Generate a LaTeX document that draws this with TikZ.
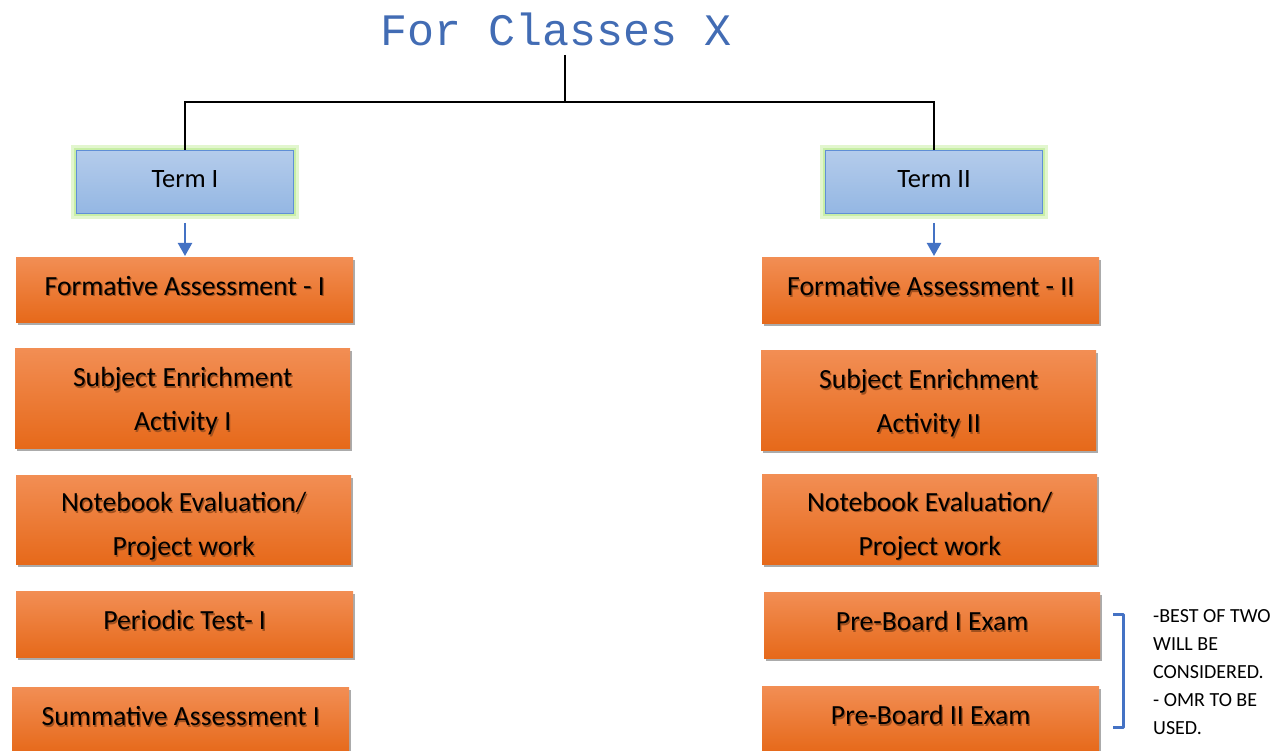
\documentclass[tikz,border=0pt]{standalone}
\usepackage{fontspec}
\setmainfont{Carlito}
\newfontfamily\titlefont{Liberation Mono}
\usetikzlibrary{shadows,arrows.meta}
\definecolor{titleblue}{RGB}{66,108,180}
\definecolor{orA}{RGB}{242,142,84}
\definecolor{orB}{RGB}{242,123,44}
\definecolor{orC}{RGB}{230,105,26}
\definecolor{blA}{RGB}{180,204,235}
\definecolor{blB}{RGB}{148,183,227}
\definecolor{blEdge}{RGB}{96,143,214}
\definecolor{glowA}{RGB}{226,246,206}
\definecolor{glowB}{RGB}{200,238,166}
\definecolor{arrowblue}{RGB}{68,114,196}
\definecolor{txtshadow}{RGB}{160,80,30}
\newcommand\shl[1]{\leavevmode\rlap{\hspace{1.3pt}\raisebox{-1.5pt}{\textcolor{txtshadow}{#1}}}#1}
\begin{document}
\begin{tikzpicture}[x=1pt,y=-1pt,
  orangebase/.style={anchor=north west, inner sep=0pt,
    font=\fontsize{27.7}{44}\selectfont, top color=orA, middle color=orB, bottom color=orC,
    draw=none,
    drop shadow={shadow xshift=1.5pt, shadow yshift=-3pt, fill=black!60, opacity=0.55}},
  orangebox/.style={orangebase, text depth=8.5pt},
  orangetwo/.style={orangebase, align=center},
  termbox/.style={anchor=north west, inner sep=0pt, minimum width=217pt, minimum height=63pt,
    font=\fontsize{26.5}{30}\selectfont, top color=blA, bottom color=blB, draw=blEdge, line width=1pt,
    text depth=5pt,
    preaction={draw=glowA, line width=11pt},
    preaction={draw=glowB, line width=5pt}},
  link/.style={draw=black, line width=1.4pt},
  downarrow/.style={draw=arrowblue, line width=2.2pt, -{Triangle[length=13pt,width=14pt]}, shorten <=9pt, shorten >=1pt}
]
\useasboundingbox (0,0) rectangle (1274,751);

% title
\node[anchor=base, inner sep=0pt, text=titleblue, font=\titlefont\fontsize{45}{50}\selectfont] (title) at (556,46) {For Classes X};
\coordinate (tb) at (565,55);
\coordinate (j) at (565,102);

% term boxes
\node[termbox] (t1) at (76,150) {Term I};
\node[termbox] (t2) at (825,150) {Term II};

% connectors
\draw[link] (tb) -- (j);
\draw[link] (t1.north) |- (j) -| (t2.north);

% left column
\node[orangebox, minimum width=337pt, minimum height=65pt] (l1) at (16,257) {\shl{Formative Assessment - I}};
\node[orangetwo, minimum width=335pt, minimum height=100pt] (l2) at (15,348) {\rule{0pt}{27pt}\shl{Subject Enrichment}\\\shl{Activity I}};
\node[orangetwo, minimum width=335pt, minimum height=89pt] (l3) at (16,475) {\rule{0pt}{34pt}\shl{Notebook Evaluation/}\\\shl{Project work}};
\node[orangebox, minimum width=337pt, minimum height=66pt] (l4) at (16,591) {\shl{Periodic Test- I}};
\node[orangebox, minimum width=337pt, minimum height=66pt] (l5) at (12,687) {\shl{Summative Assessment I}};

% right column
\node[orangebox, minimum width=337pt, minimum height=66pt] (r1) at (762,257) {\shl{Formative Assessment - II}};
\node[orangetwo, minimum width=335pt, minimum height=100pt] (r2) at (761,350) {\rule{0pt}{27pt}\shl{Subject Enrichment}\\\shl{Activity II}};
\node[orangetwo, minimum width=335pt, minimum height=90pt] (r3) at (762,474) {\rule{0pt}{34pt}\shl{Notebook Evaluation/}\\\shl{Project work}};
\node[orangebox, minimum width=336pt, minimum height=66pt] (r4) at (764,592) {\shl{Pre-Board I Exam}};
\node[orangebox, minimum width=337pt, minimum height=66pt] (r5) at (762,686) {\shl{Pre-Board II Exam}};

% arrows
\draw[downarrow] (t1.south) -- (l1.north -| t1.south);
\draw[downarrow] (t2.south) -- (r1.north -| t2.south);

% bracket
\coordinate (ba) at (1113,614);
\coordinate (bb) at (1123,614);
\coordinate (bc) at (1123,727);
\coordinate (bd) at (1113,727);
\draw[draw=arrowblue, line width=3pt, line join=round] (ba) -- (bb) -- (bc) -- (bd);

% note
\node[anchor=north west, inner sep=0pt, align=left, font=\fontsize{20}{28}\selectfont] (note) at (1153,609)
  {-BEST OF TWO\\WILL BE\\CONSIDERED.\\- OMR TO BE\\USED.};
\end{tikzpicture}
\end{document}
